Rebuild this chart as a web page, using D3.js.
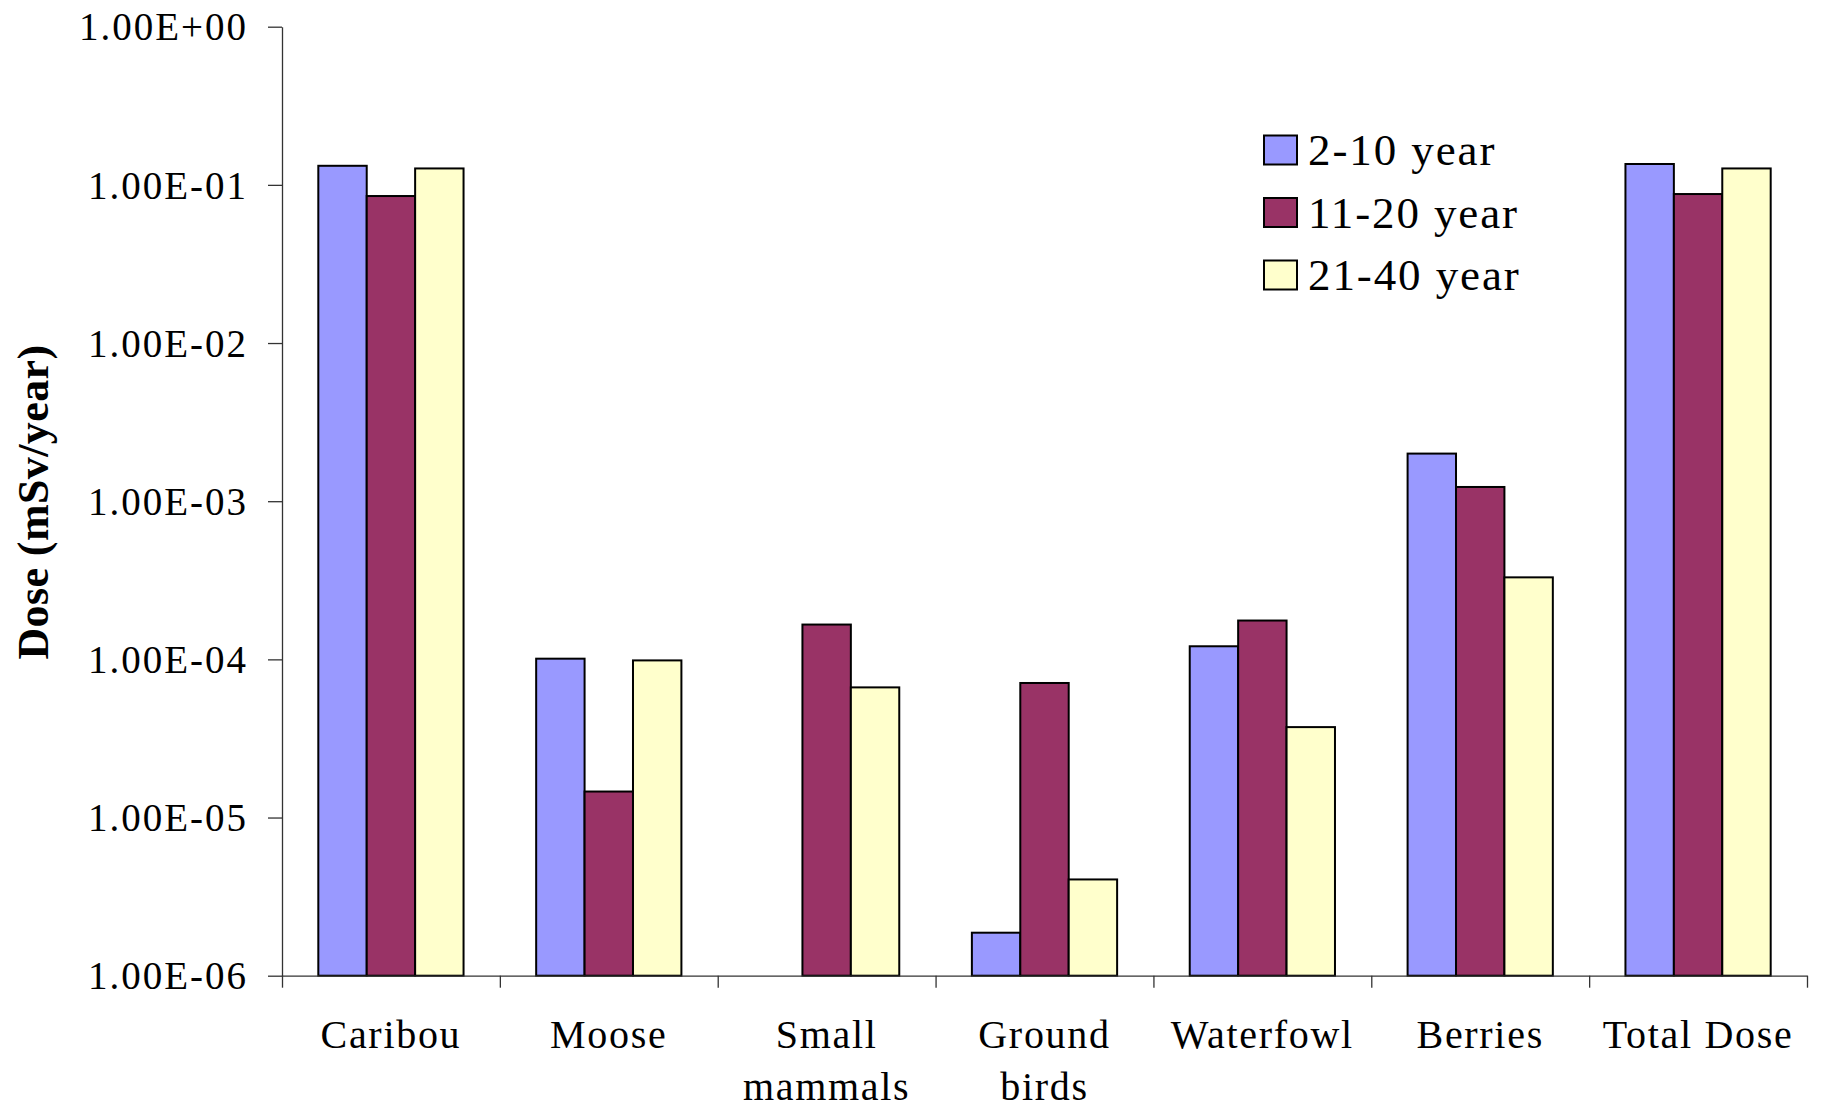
<!DOCTYPE html>
<html>
<head>
<meta charset="utf-8">
<script src="https://cdnjs.cloudflare.com/ajax/libs/d3/7.8.5/d3.min.js"></script>
<style>
  html, body { margin: 0; padding: 0; background: #fff; }
  svg { display: block; }
  svg text { font-family: "Liberation Serif", "Tinos", "Times New Roman", "DejaVu Serif", serif; fill: #000; }
</style>
</head>
<body>
<svg id="chart" width="1821" height="1112"></svg>
<script>
// Annual dose by food pathway and age group (mSv/year)
const categories = ["Caribou", "Moose", "Small mammals", "Ground birds", "Waterfowl", "Berries", "Total Dose"];
const categoryLines = [["Caribou"], ["Moose"], ["Small", "mammals"], ["Ground", "birds"], ["Waterfowl"], ["Berries"], ["Total Dose"]];
const seriesNames = ["2-10 year", "11-20 year", "21-40 year"];
const dose2to10  = [0.132, 1.01e-4, null,    1.87e-6, 1.21e-4, 2.00e-3, 0.1355];
const dose11to20 = [0.085, 1.46e-5, 1.66e-4, 7.09e-5, 1.76e-4, 1.23e-3, 0.0875];
const dose21to40 = [0.127, 9.85e-5, 6.65e-5, 4.06e-6, 3.73e-5, 3.30e-4, 0.127];
const yTickValues = [1, 1e-1, 1e-2, 1e-3, 1e-4, 1e-5, 1e-6];
const yTickLabels = ["1.00E+00", "1.00E-01", "1.00E-02", "1.00E-03", "1.00E-04", "1.00E-05", "1.00E-06"];
const colors = ["#9999FF", "#993366", "#FFFFCC"];

const seriesValues = [dose2to10, dose11to20, dose21to40];

const svg = d3.select("#chart");
const plot = { left: 282, right: 1807, top: 26.7, bottom: 975.7 };

const y = d3.scaleLog().domain([1e-6, 1]).range([plot.bottom, plot.top]);
const x0 = d3.scaleBand().domain(categories).range([plot.left, plot.right])
  .paddingInner(1 / 3).paddingOuter(1 / 6);
const x1 = d3.scaleBand().domain(seriesNames).range([0, x0.bandwidth()]);
const xEdges = d3.scaleLinear().domain([0, categories.length]).range([plot.left, plot.right]);

// Bars
const groups = svg.append("g").selectAll("g")
  .data(categories)
  .join("g")
  .attr("transform", d => `translate(${x0(d)},0)`);

groups.selectAll("rect")
  .data((c, i) => seriesNames.map((s, k) => ({ s, k, v: seriesValues[k][i] })).filter(d => d.v != null))
  .join("rect")
  .attr("x", d => x1(d.s))
  .attr("width", x1.bandwidth())
  .attr("y", d => y(d.v))
  .attr("height", d => y(1e-6) - y(d.v))
  .attr("fill", d => colors[d.k])
  .attr("stroke", "#000")
  .attr("stroke-width", 2);

// Y axis
const yAxis = svg.append("g")
  .attr("transform", `translate(${plot.left},0)`)
  .call(d3.axisLeft(y)
    .tickValues(yTickValues)
    .tickFormat((d, i) => yTickLabels[i])
    .tickSize(14)
    .tickSizeOuter(0)
    .tickPadding(20));
yAxis.attr("font-family", null);
yAxis.select(".domain").attr("stroke", "#333").attr("stroke-width", 1.3);
yAxis.selectAll(".tick line").attr("stroke", "#333").attr("stroke-width", 1.3);
yAxis.selectAll(".tick text")
  .style("font-size", "39px")
  .attr("letter-spacing", 2)
  .attr("fill", "#000")
  .attr("dy", "0.34em");

// X axis: baseline with ticks at category boundaries
const xAxis = svg.append("g")
  .attr("transform", `translate(0,${plot.bottom})`)
  .call(d3.axisBottom(xEdges)
    .tickValues(d3.range(categories.length + 1))
    .tickFormat("")
    .tickSize(12)
    .tickSizeOuter(0));
xAxis.select(".domain").attr("stroke", "#333").attr("stroke-width", 1.3);
xAxis.selectAll(".tick line").attr("stroke", "#333").attr("stroke-width", 1.3);

// Category labels
const labels = svg.append("g").selectAll("text")
  .data(categories)
  .join("text")
  .attr("text-anchor", "middle")
  .style("font-size", "40px")
  .attr("letter-spacing", 1.7)
  .attr("x", d => x0(d) + x0.bandwidth() / 2)
  .attr("y", 1048);
labels.selectAll("tspan")
  .data((d, i) => categoryLines[i])
  .join("tspan")
  .attr("x", function () { return d3.select(this.parentNode).attr("x"); })
  .attr("dy", (d, j) => j === 0 ? 0 : 52)
  .text(d => d);

// Y axis title
svg.append("text")
  .attr("transform", "translate(48,502) rotate(-90)")
  .attr("text-anchor", "middle")
  .style("font-size", "44px")
  .style("font-weight", "bold")
  .attr("letter-spacing", 0.4)
  .text("Dose (mSv/year)");

// Legend
const legend = svg.append("g").attr("transform", "translate(1264,150)");
const items = legend.selectAll("g")
  .data(seriesNames)
  .join("g")
  .attr("transform", (d, i) => `translate(0,${i * 62.5})`);
items.append("rect")
  .attr("x", 0).attr("y", -14.5)
  .attr("width", 33).attr("height", 29)
  .attr("fill", (d, i) => colors[i])
  .attr("stroke", "#000")
  .attr("stroke-width", 2);
items.append("text")
  .attr("x", 44).attr("y", 15)
  .style("font-size", "45px")
  .attr("letter-spacing", 1.9)
  .text(d => d);
</script>
</body>
</html>
